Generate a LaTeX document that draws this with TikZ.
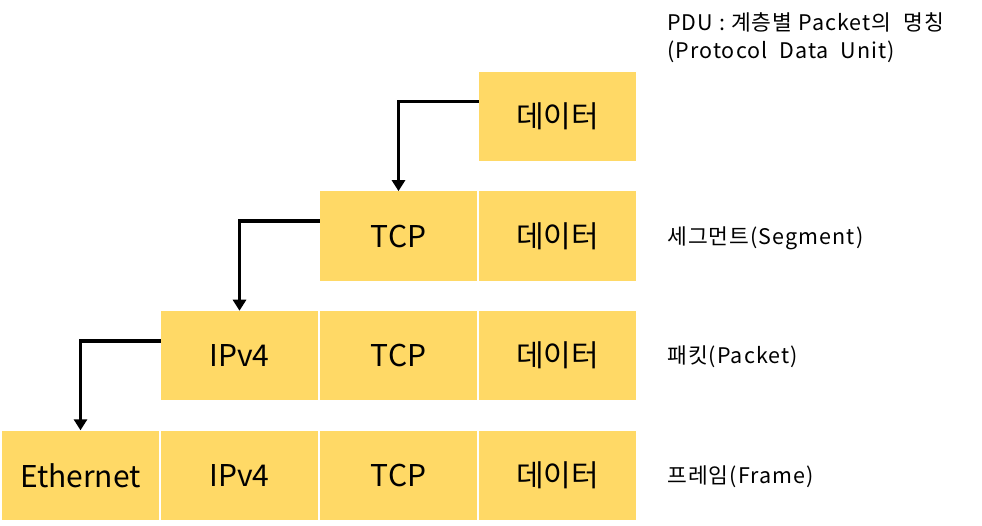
\documentclass[tikz,border=0pt]{standalone}
\usepackage{fontspec}
\setmainfont{Noto Sans CJK KR}
\newfontfamily\lblfont{Noto Sans CJK KR}[LetterSpace=5]
\usetikzlibrary{arrows.meta}
\definecolor{boxyellow}{RGB}{255,217,102}
\tikzset{
  cell/.style={rectangle, fill=boxyellow, minimum width=157.5pt, minimum height=89.5pt, inner sep=0pt, font=\fontsize{30}{36}\selectfont},
  lbl/.style={anchor=west, inner sep=0pt, font=\lblfont\fontsize{21.5}{26}\selectfont},
  arr/.style={line width=3.8pt, -{Triangle[length=11pt,width=13pt]}}
}
\begin{document}
\begin{tikzpicture}[x=1pt,y=-1pt]
\useasboundingbox (0,0) rectangle (982,526);
% row 0
\node[cell] (d0) at (557.5,116.5) {데이터};
% row 1
\node[cell] (t1) at (398.5,236.1) {TCP};
\node[cell] (d1) at (557.5,236.1) {데이터};
% row 2
\node[cell] (i2) at (239.5,355.7) {IPv4};
\node[cell] (t2) at (398.5,355.7) {TCP};
\node[cell] (d2) at (557.5,355.7) {데이터};
% row 3
\node[cell] (e3) at (80.5,475.3) {Ethernet};
\node[cell] (i3) at (239.5,475.3) {IPv4};
\node[cell] (t3) at (398.5,475.3) {TCP};
\node[cell] (d3) at (557.5,475.3) {데이터};
% arrows
\draw[arr] ([yshift=15pt]d0.west) -| (t1.north);
\draw[arr] ([yshift=15pt]t1.west) -| (i2.north);
\draw[arr] ([yshift=15pt]i2.west) -| (e3.north);
% labels
\node[lbl] (pdu1) at (667,22) {PDU : 계층별 Packet의\ \ 명칭};
\node[lbl] (pdu2) at (667,52) {(Protocol\ \ Data\ \ Unit)};
\node[lbl] (seg) at (667,238) {세그먼트(Segment)};
\node[lbl] (pkt) at (667,357) {패킷(Packet)};
\node[lbl] (frm) at (667,477) {프레임(Frame)};
\end{tikzpicture}
\end{document}
